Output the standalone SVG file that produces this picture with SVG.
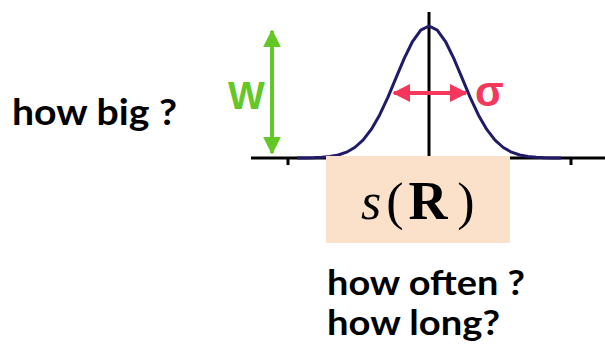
<svg xmlns="http://www.w3.org/2000/svg" width="605" height="351" viewBox="0 0 605 351">
<style>
.q{font-family:Lato,"Open Sans",sans-serif;font-weight:bold;fill:#000}
.ax{stroke:#000;stroke-width:3;fill:none}
.tex{font-family:"Liberation Serif","DejaVu Serif",serif;fill:#000}
</style>
<defs>
<marker id="gh" viewBox="0 0 10 10" refX="9" refY="5" markerWidth="4.5" markerHeight="4.5" orient="auto-start-reverse" markerUnits="strokeWidth"><path d="M0,0 L10,5 L0,10 z" fill="#63c725"/></marker>
<marker id="rh" viewBox="0 0 10 10" refX="9" refY="5" markerWidth="4.5" markerHeight="4.5" orient="auto-start-reverse" markerUnits="strokeWidth"><path d="M0,0 L10,5 L0,10 z" fill="#f5375b"/></marker>
</defs>
<rect width="605" height="351" fill="#fff"/>
<g id="axes">
<line class="ax" x1="251" y1="158" x2="605" y2="158"/>
<line class="ax" x1="429" y1="12" x2="429" y2="158"/>
<line class="ax" x1="288" y1="158" x2="288" y2="165"/>
<line class="ax" x1="571" y1="158" x2="571" y2="165"/>
</g>
<g id="gaussian">
<polyline fill="none" stroke="#201a6a" stroke-width="3" stroke-linejoin="round" points="297,157.96 305.25,157.88 313.5,157.71 321.75,157.33 330,156.53 338.25,154.99 346.5,152.2 354.75,147.5 363,140.13 371.25,129.45 379.5,115.15 387.75,97.57 396,77.94 404.25,58.36 412.5,41.51 420.75,30.06 429,26 437.25,30.06 445.5,41.51 453.75,58.36 462,77.94 470.25,97.57 478.5,115.15 486.75,129.45 495,140.13 503.25,147.5 511.5,152.2 519.75,154.99 528,156.53 536.25,157.33 544.5,157.71 552.75,157.88 561,157.96"/>
</g>
<g id="s-box">
<rect x="326" y="156" width="184" height="87" fill="#fbe1c9"/>
<text class="tex" y="219" font-size="52" text-anchor="middle"><tspan x="371" font-style="italic">s</tspan><tspan x="395">(</tspan><tspan x="428" font-weight="bold" font-size="54">R</tspan><tspan x="466">)</tspan></text>
</g>
<g id="connectors">
<line x1="272" y1="31" x2="272" y2="153" stroke="#63c725" stroke-width="4" marker-start="url(#gh)" marker-end="url(#gh)"/>
<line x1="394" y1="93" x2="466" y2="93" stroke="#f5375b" stroke-width="4" marker-start="url(#rh)" marker-end="url(#rh)"/>
</g>
<g id="labels">
<text x="228" y="109" font-family="'Liberation Sans',Arial,sans-serif" font-weight="bold" font-size="39" fill="#63c725">W</text>
<text x="475" y="106" font-family="'Liberation Sans',Arial,sans-serif" font-weight="bold" font-size="42" fill="#f5375b">σ</text>
<text class="q" x="12" y="125" font-size="36" textLength="165" lengthAdjust="spacingAndGlyphs">how big ?</text>
<text class="q" x="327" y="295" font-size="34" textLength="198" lengthAdjust="spacingAndGlyphs">how often ?</text>
<text class="q" x="327" y="335" font-size="34" textLength="173" lengthAdjust="spacingAndGlyphs">how long?</text>
</g>
</svg>
